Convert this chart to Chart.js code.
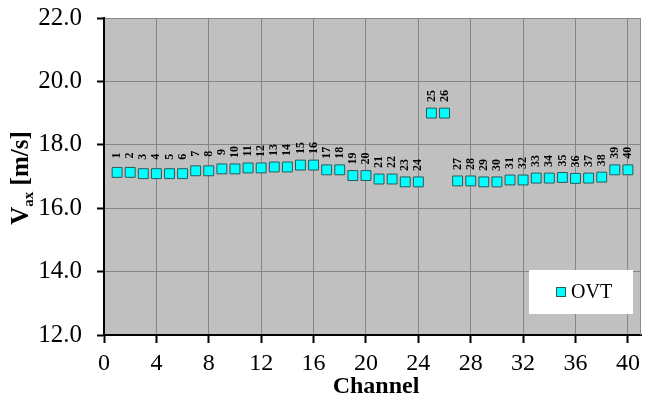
<!DOCTYPE html>
<html><head><meta charset="utf-8">
<script src="https://cdn.jsdelivr.net/npm/chart.js@4.4.0/dist/chart.umd.min.js"></script>
<style>html,body{margin:0;padding:0;background:#fff;overflow:hidden}#wrap{width:649px;height:399px;position:relative}
.pre{position:absolute;left:-9999px;top:0;font-family:'Liberation Serif'}</style>
</head><body>
<div class="pre" style="font-size:24px">0123456789. Channel OVT Vax [m/s]</div>
<div class="pre" style="font-size:24px;font-weight:bold">0123456789. Channel OVT Vax [m/s]</div>
<div id="wrap"><canvas id="c" width="649" height="399"></canvas></div>
<script>
const channels = [1,2,3,4,5,6,7,8,9,10,11,12,13,14,15,16,17,18,19,20,21,22,23,24,25,26,27,28,29,30,31,32,33,34,35,36,37,38,39,40];
const vax = [17.13,17.13,17.09,17.09,17.09,17.09,17.18,17.18,17.24,17.24,17.27,17.27,17.30,17.30,17.36,17.36,17.21,17.21,17.03,17.03,16.92,16.92,16.83,16.83,19.00,19.00,16.86,16.86,16.83,16.83,16.89,16.89,16.95,16.95,16.97,16.94,16.95,16.98,17.21,17.21];
const pointLabels = ["1","2","3","4","5","6","7","8","9","10","11","12","13","14","15","16","17","18","19","20","21","22","23","24","25","26","27","28","29","30","31","32","33","34","35","36","37","38","39","40"];
const xTicks = [0,4,8,12,16,20,24,28,32,36,40];
const yTicks = [12,14,16,18,20,22];
const seriesName = "OVT";
const xTitle = "Channel";
const yTitleMain = "V", yTitleSub = "ax", yTitleUnit = " [m/s]";

const SERIF = "'Liberation Serif'";

const bgPlugin = {
  id: 'bg',
  beforeDraw(chart) {
    const {ctx, chartArea: a} = chart;
    ctx.save();
    ctx.fillStyle = '#c0c0c0';
    ctx.fillRect(a.left, a.top, a.right - a.left, a.bottom - a.top);
    ctx.restore();
  },
  afterDraw(chart) {
    const {ctx, chartArea: a} = chart;
    ctx.save();
    ctx.strokeStyle = '#8a8a8a';
    ctx.lineWidth = 1;
    ctx.beginPath();
    ctx.moveTo(a.right - 0.5, a.top);
    ctx.lineTo(a.right - 0.5, a.bottom);
    ctx.stroke();
    ctx.restore();
  }
};

const labelPlugin = {
  id: 'ptlabels',
  afterDatasetsDraw(chart) {
    const ctx = chart.ctx;
    const meta = chart.getDatasetMeta(0);
    ctx.save();
    ctx.fillStyle = '#000';
    ctx.font = "bold 12px " + SERIF;
    ctx.textAlign = 'center';
    ctx.textBaseline = 'middle';
    meta.data.forEach((el, i) => {
      ctx.save();
      ctx.translate(el.x, el.y - 17);
      ctx.rotate(-Math.PI / 2);
      ctx.fillText(pointLabels[i], 0, 0);
      ctx.restore();
    });
    ctx.restore();
  }
};

const titlePlugin = {
  id: 'titles',
  afterDraw(chart) {
    const ctx = chart.ctx;
    ctx.save();
    ctx.fillStyle = '#000';
    ctx.font = "bold 24px " + SERIF;
    ctx.textAlign = 'center';
    ctx.textBaseline = 'middle';
    ctx.fillText(xTitle, 376, 387);
    ctx.translate(22, 178);
    ctx.rotate(-Math.PI / 2);
    ctx.textAlign = 'left';
    ctx.textBaseline = 'alphabetic';
    const fMain = "bold 25px " + SERIF, fSub = "bold 15px " + SERIF;
    ctx.font = fMain; const w1 = ctx.measureText(yTitleMain).width;
    const w3 = ctx.measureText(yTitleUnit).width;
    ctx.font = fSub; const w2 = ctx.measureText(yTitleSub).width;
    let x = -(w1 + w2 + w3) / 2;
    const base = 6;
    ctx.font = fMain; ctx.fillText(yTitleMain, x, base); x += w1;
    ctx.font = fSub; ctx.fillText(yTitleSub, x, base + 5); x += w2;
    ctx.font = fMain; ctx.fillText(yTitleUnit, x, base);
    ctx.restore();
  }
};

const legendPlugin = {
  id: 'legbox',
  afterDraw(chart) {
    const ctx = chart.ctx;
    ctx.save();
    ctx.fillStyle = '#ffffff';
    ctx.fillRect(529, 270, 104, 44);
    const ds = chart.data.datasets[0];
    ctx.fillStyle = ds.backgroundColor;
    ctx.strokeStyle = ds.borderColor;
    ctx.lineWidth = 1;
    ctx.fillRect(556, 287, 10, 10);
    ctx.strokeRect(556.5, 287.5, 9, 9);
    ctx.fillStyle = '#000';
    ctx.font = "20px " + SERIF;
    ctx.textAlign = 'left';
    ctx.textBaseline = 'middle';
    ctx.fillText(ds.label, 571, 293);
    ctx.restore();
  }
};

function build() {
  new Chart(document.getElementById('c'), {
    type: 'scatter',
    data: {
      datasets: [{
        label: seriesName,
        data: channels.map((c, i) => ({x: c, y: vax[i]})),
        backgroundColor: '#00ffff',
        borderColor: '#2a5a5a',
        borderWidth: 1,
        pointStyle: 'rect',
        pointRadius: 7,
        pointHoverRadius: 7,
        showLine: false
      }]
    },
    options: {
      responsive: false,
      animation: false,
      devicePixelRatio: 1,
      layout: {padding: {top: 18, right: 2, left: 0, bottom: 0}},
      plugins: {legend: {display: false}, tooltip: {enabled: false}},
      scales: {
        x: {
          type: 'linear', min: 0, max: 41,
          afterBuildTicks(s) { s.ticks = xTicks.map(v => ({value: v})); },
          afterFit(s) { s.height = 64; s.paddingLeft = 0; s.paddingRight = 0; },
          ticks: {color: '#000', font: {family: SERIF, size: 24}, padding: 6, maxRotation: 0, autoSkip: false},
          grid: {color: '#858585', lineWidth: 1, tickLength: 8, tickColor: '#000', tickWidth: 2},
          border: {color: '#000', width: 2}
        },
        y: {
          type: 'linear', min: 12, max: 22,
          afterBuildTicks(s) { s.ticks = yTicks.map(v => ({value: v})); },
          afterFit(s) { s.width = 104; s.paddingTop = 0; s.paddingBottom = 0; },
          ticks: {color: '#000', font: {family: SERIF, size: 25}, padding: 15, callback: v => v.toFixed(1)},
          grid: {color: '#858585', lineWidth: 1, tickLength: 7, tickColor: '#000', tickWidth: 2},
          border: {color: '#000', width: 2}
        }
      }
    },
    plugins: [bgPlugin, labelPlugin, titlePlugin, legendPlugin]
  });
}
Promise.all([
  document.fonts.load("24px 'Liberation Serif'"),
  document.fonts.load("bold 24px 'Liberation Serif'")
]).then(build, build);
</script>
</body></html>
